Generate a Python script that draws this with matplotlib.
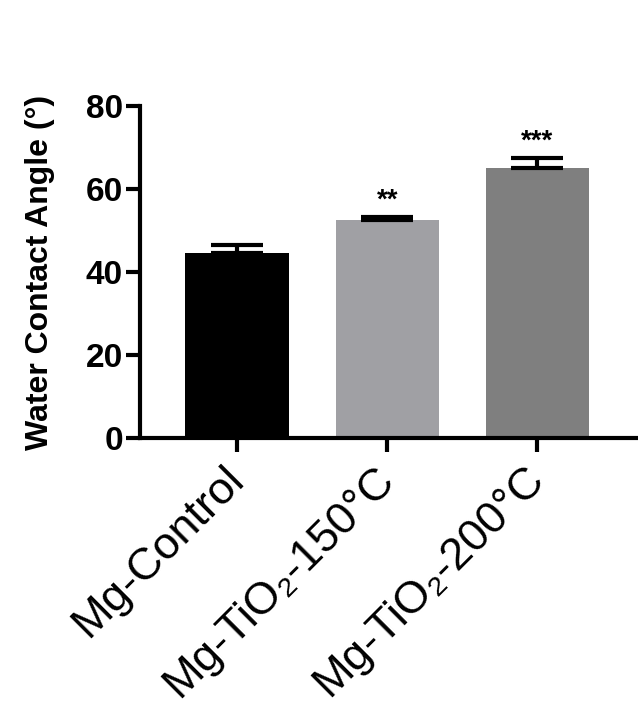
import matplotlib
matplotlib.use('Agg')
import matplotlib.pyplot as plt

plt.rcParams['font.family'] = ['Liberation Sans', 'DejaVu Sans']

# data
groups = ['Mg-Control', 'Mg-TiO₂-150°C', 'Mg-TiO₂-200°C']
means = [44.6, 52.5, 65.1]
errors = [1.9, 0.7, 2.4]
stars = ['', '**', '***']
colors = ['#000000', '#a0a0a4', '#7f7f7f']

fig = plt.figure(figsize=(6.38, 7.08), dpi=100)
ax = fig.add_axes([0.219, 0.381, 0.781, 0.469])

x = list(range(len(groups)))
ax.bar(x, means, width=0.69, color=colors, zorder=2)
ax.errorbar(x, means, yerr=[[0] * 3, errors], fmt='none', ecolor='black',
            elinewidth=3, capsize=19, capthick=3, zorder=3)
for xi, m, e, s in zip(x, means, errors, stars):
    if s:
        ax.text(xi, m + e + 0.8, s, ha='center', va='bottom', fontsize=20,
                fontweight='bold')

ax.set_xlim(-0.65, 2.67)
ax.set_ylim(0, 80)
ax.set_yticks([0, 20, 40, 60, 80])
ax.set_xticks(x)
ax.set_xticklabels(groups, rotation=45, ha='right', va='center',
                   rotation_mode='anchor', fontsize=32.5)
for lab in ax.get_yticklabels():
    lab.set_fontweight('bold')
ax.tick_params(axis='y', labelsize=24, width=3, length=10, pad=2)
ax.tick_params(axis='x', width=3, length=10, pad=15)
ax.set_ylabel('Water Contact Angle (°)', fontsize=23, fontweight='bold',
              labelpad=22)

for side in ['top', 'right']:
    ax.spines[side].set_visible(False)
for side in ['left', 'bottom']:
    ax.spines[side].set_linewidth(3)

fig.savefig('out.png', dpi=100)
